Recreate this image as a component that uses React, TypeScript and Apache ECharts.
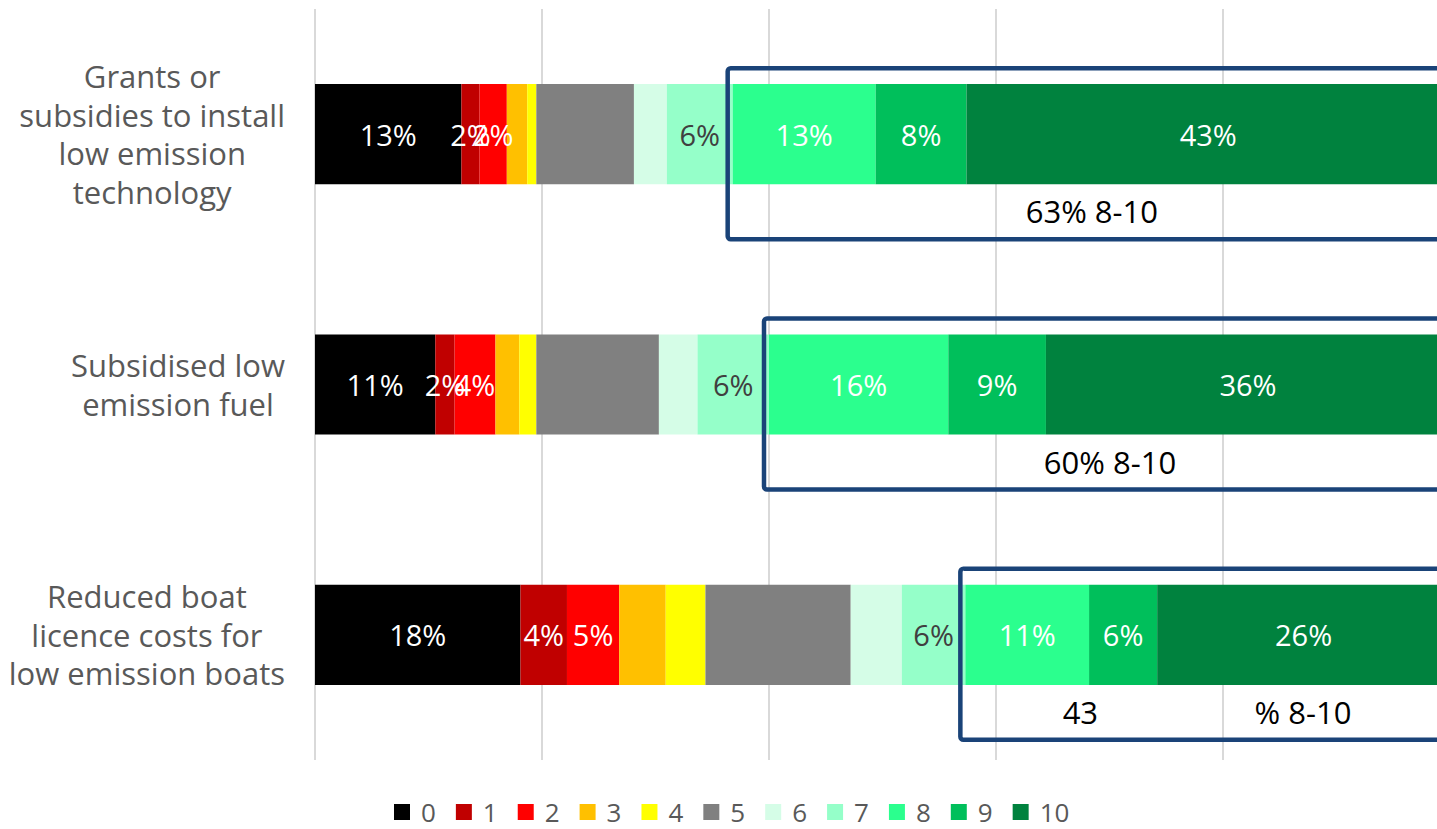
import React, { useEffect, useRef } from "react";
import * as echarts from "echarts";

const categories = [
  "Grants or\nsubsidies to install\nlow emission\ntechnology",
  "Subsidised low\nemission fuel",
  "Reduced boat\nlicence costs for\nlow emission boats",
];

const scoreLabels = ["0", "1", "2", "3", "4", "5", "6", "7", "8", "9", "10"];

const scoreColors = [
  "#000000",
  "#c00000",
  "#ff0000",
  "#ffc000",
  "#ffff00",
  "#808080",
  "#d5fde7",
  "#95ffc9",
  "#2bff8e",
  "#00bf5b",
  "#00823e",
];

// share of respondents (%) for scores 0..10
const grantsValues = [12.9, 1.6, 2.4, 1.8, 0.8, 8.6, 2.9, 5.8, 12.6, 8.0, 42.6];
const fuelValues = [10.6, 1.7, 3.6, 2.1, 1.5, 10.8, 3.4, 6.3, 15.8, 8.6, 35.6];
const licenceValues = [18.1, 4.1, 4.6, 4.1, 3.5, 12.8, 4.5, 5.6, 10.9, 6.0, 25.8];

const rows = [grantsValues, fuelValues, licenceValues];

const labelledScores = [0, 1, 2, 7, 8, 9, 10];
const darkLabelScores = [7];
const highlightFrom = 8;

const FONT = "'Open Sans', sans-serif";

export default function App() {
  const ref = useRef<HTMLDivElement>(null);

  useEffect(() => {
    document.body.style.margin = "0";
    if (!ref.current) return;
    const chart = echarts.init(ref.current, null, { renderer: "svg" });

    const series = scoreLabels.map((name, k) => ({
      type: "bar",
      name,
      stack: "total",
      barCategoryGap: "60%",
      data: rows.map((r) => r[k]),
      itemStyle: { color: scoreColors[k] },
      emphasis: { disabled: true },
      label: {
        show: labelledScores.includes(k),
        position: "inside",
        color: darkLabelScores.includes(k) ? "#404040" : "#ffffff",
        fontSize: 29,
        fontFamily: FONT,
        formatter: (p: any) => Math.round(p.value) + "%",
      },
    }));

    chart.setOption({
      animation: false,
      grid: {
        left: 315,
        width: 1135,
        top: 9,
        bottom: 69,
        containLabel: false,
        outerBoundsMode: "none",
      },
      xAxis: {
        type: "value",
        min: 0,
        max: 100,
        interval: 20,
        axisLabel: { show: false },
        axisLine: { show: false },
        axisTick: { show: false },
        splitLine: { show: true, lineStyle: { color: "#d9d9d9", width: 2 } },
      },
      yAxis: {
        type: "category",
        inverse: true,
        data: categories,
        axisLine: { show: false },
        axisTick: { show: false },
        axisLabel: {
          margin: 30,
          align: "right",
          formatter: (v: string) =>
            v
              .split("\n")
              .map((l) => `{c|${l}}`)
              .join("\n"),
          rich: {
            c: {
              align: "center",
              fontSize: 31,
              lineHeight: 38.5,
              color: "#595959",
              fontFamily: FONT,
            },
          },
        },
      },
      legend: {
        data: scoreLabels,
        left: 394,
        top: 799,
        padding: 0,
        icon: "rect",
        itemWidth: 16,
        itemHeight: 16,
        itemGap: 20,
        selectedMode: false,
        textStyle: {
          fontSize: 26,
          lineHeight: 24,
          color: "#595959",
          fontFamily: FONT,
          padding: [0, 0, 0, 6],
        },
      },
      series,
    });

    const sum = (a: number[]) => a.reduce((s, v) => s + v, 0);
    const graphics: any[] = [];
    rows.forEach((r, i) => {
      const before = sum(r.slice(0, highlightFrom));
      const top = sum(r.slice(highlightFrom));
      const [x0, cy] = chart.convertToPixel({ gridIndex: 0 }, [before, categories[i]]) as number[];
      const [x1] = chart.convertToPixel({ gridIndex: 0 }, [100, categories[i]]) as number[];
      const left = x0 - 5;
      const right = x1 + 6;
      const boxTop = cy - 66;
      const boxBottom = cy + 105;
      graphics.push({
        type: "rect",
        z: 100,
        shape: { x: left, y: boxTop, width: right - left, height: boxBottom - boxTop, r: 3 },
        style: { fill: "none", stroke: "#1a4378", lineWidth: 4.5 },
      });
      const txt = Math.round(top) + "% 8-10";
      const textEl = (text: string, x: number) => ({
        type: "text",
        z: 100,
        x,
        y: cy + 77,
        style: {
          text,
          fill: "#000000",
          font: `31px ${FONT}`,
          align: "center",
          verticalAlign: "middle",
          textAlign: "center",
          textVerticalAlign: "middle",
        },
      });
      if (i < 2) {
        graphics.push(textEl(txt, (left + right) / 2));
      } else {
        graphics.push(textEl(String(Math.round(top)), left + 120));
        graphics.push(textEl("% 8-10", right - 153));
      }
    });
    chart.setOption({ graphic: graphics });

    return () => chart.dispose();
  }, []);

  return <div ref={ref} style={{ width: 1437, height: 829 }} />;
}
